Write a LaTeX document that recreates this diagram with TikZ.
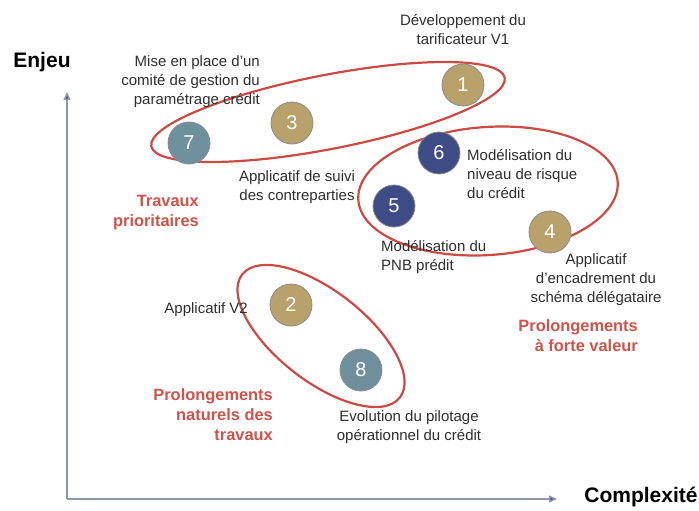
\documentclass[tikz,border=0pt]{standalone}
\usepackage{fontspec}
\setmainfont{Liberation Sans}
\usetikzlibrary{arrows.meta}
\definecolor{gold}{HTML}{B8A16A}
\definecolor{teal2}{HTML}{6E909C}
\definecolor{navy}{HTML}{3D4C85}
\definecolor{ellred}{HTML}{CC4A44}
\definecolor{axiscol}{HTML}{8E97B4}
\definecolor{tipcol}{HTML}{4B5580}
\definecolor{txt}{HTML}{2E2E2E}
\definecolor{lblred}{HTML}{D0534A}
\begin{document}
\begin{tikzpicture}[x=1pt,y=-1pt,
  bubble/.style={circle,draw=black!45,line width=0.8pt,minimum size=42pt,inner sep=0pt,text=white,font=\fontsize{20}{20}\selectfont},
  goldb/.style={bubble,fill=gold},
  tealb/.style={bubble,fill=teal2},
  navyb/.style={bubble,fill=navy},
  desc/.style={inner sep=0pt,text=txt,font=\fontsize{15}{19}\selectfont},
  zone/.style={inner sep=0pt,text=lblred,font=\fontsize{16.4}{20}\selectfont\bfseries,align=right},
  axtitle/.style={inner sep=0pt,text=black,font=\fontsize{21}{24}\selectfont\bfseries},
  ring/.style={draw=ellred,line width=2.2pt},
  axis/.style={draw=axiscol,line width=1.4pt,-{Triangle[length=8pt,width=7pt,fill=tipcol]}}]
\useasboundingbox (0,0) rectangle (699,511);
\fill[white] (0,0) rectangle (699,511);

% axes
\coordinate (o) at (67,499);
\coordinate (ytip) at (67,92);
\coordinate (xtip) at (557,499);
\draw[axis] (o) -- (ytip);
\draw[axis] (o) -- (xtip);
\node[axtitle] (enjeu) at (42,62) {Enjeu};
\node[axtitle] (cplx) at (641,497) {Complexité};

% ellipses
\draw[ring,rotate around={11:(328,112)}] (328,112) ellipse [x radius=180,y radius=37];
\draw[ring,rotate around={4:(488,191)}] (488,191) ellipse [x radius=130,y radius=64];
\draw[ring,rotate around={-38:(321,336)}] (321,336) ellipse [x radius=100,y radius=45];

% bubbles
\node[goldb] (n1) at (463,85) {1};
\node[goldb] (n3) at (292,123) {3};
\node[tealb] (n7) at (189,143) {7};
\node[navyb] (n6) at (439,153) {6};
\node[navyb] (n5) at (394,206) {5};
\node[goldb] (n4) at (550,232) {4};
\node[goldb] (n2) at (291,305) {2};
\node[tealb] (n8) at (361,370) {8};

% descriptions
\node[desc,align=center] (d1) at (463,30) {Développement du\\tarificateur V1};
\node[desc,align=right,anchor=east] (d7) at (260,82) {Mise en place d’un\\comité de gestion du\\paramétrage crédit};
\node[desc,align=center] (d3) at (297,187) {Applicatif de suivi\\des contreparties};
\node[desc,align=left,anchor=west] (d6) at (467,174) {Modélisation du\\niveau de risque\\du crédit};
\node[desc,align=left,anchor=west] (d5) at (381,257) {Modélisation du\\PNB prédit};
\node[desc,align=center] (d4) at (596,280) {Applicatif\\d’encadrement du\\schéma délégataire};
\node[desc,anchor=east] (d2) at (248,310) {Applicatif V2};
\node[desc,align=center] (d8) at (409,427) {Evolution du pilotage\\opérationnel du crédit};

% zone labels
\node[zone,anchor=east] (z1) at (199,213) {Travaux\\prioritaires};
\node[zone,anchor=east] (z2) at (638,336) {Prolongements\\à forte valeur};
\node[zone,anchor=east] (z3) at (273,415) {Prolongements\\naturels des\\travaux};
\end{tikzpicture}
\end{document}
